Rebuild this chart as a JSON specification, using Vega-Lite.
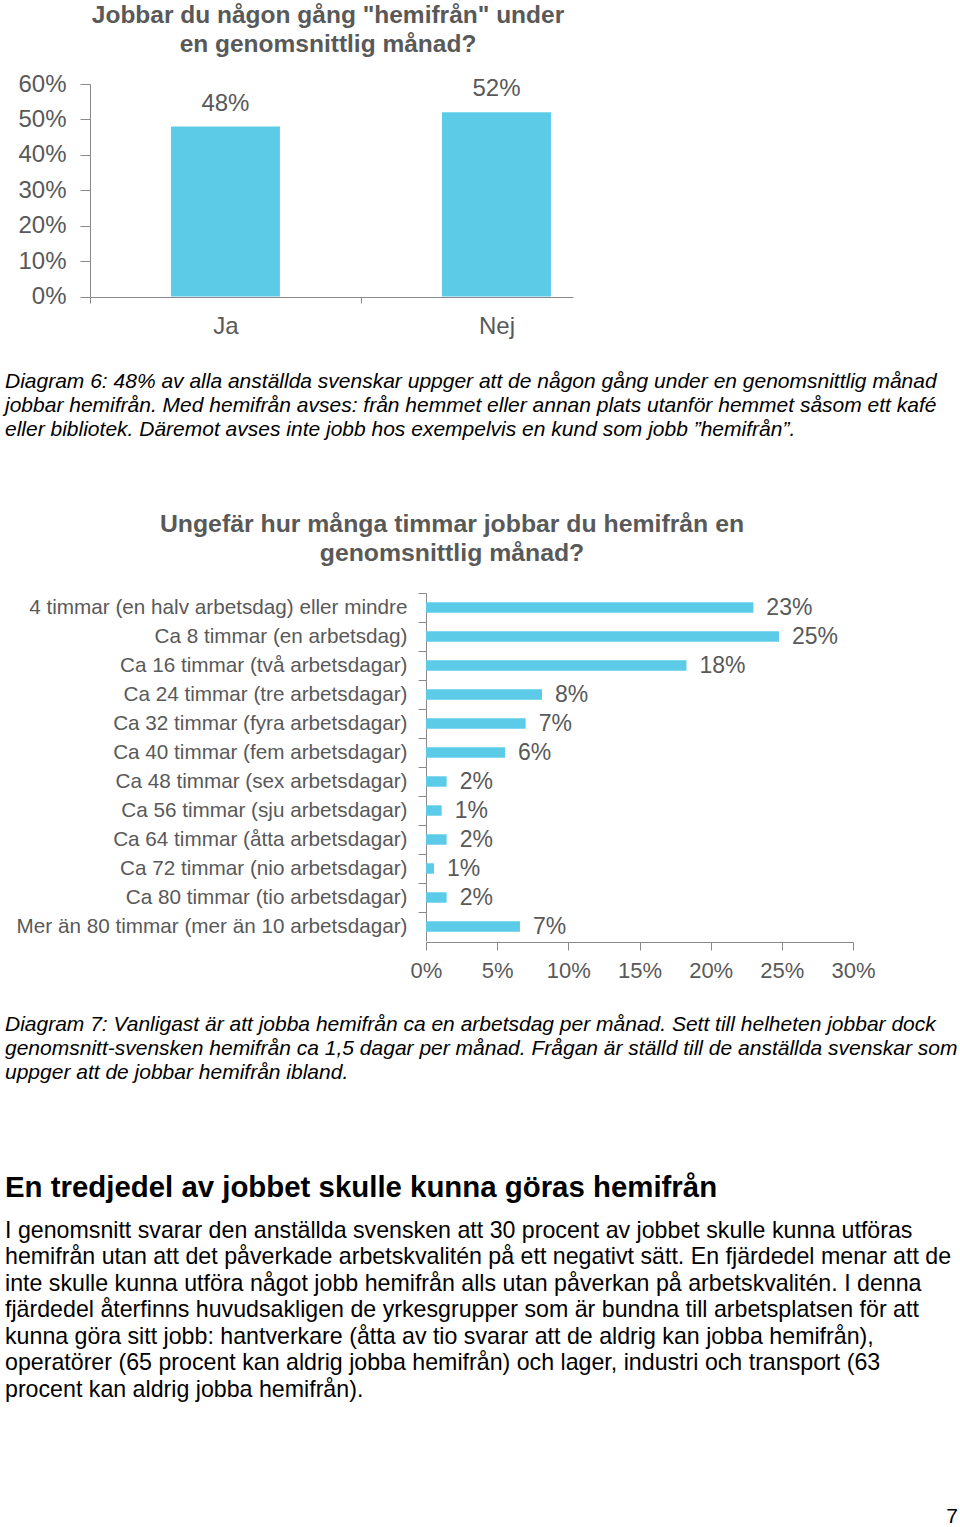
{
  "$schema": "https://vega.github.io/schema/vega-lite/v6.json",
  "autosize": {"type": "pad"},
  "padding": {"left": 5, "top": 0, "right": 0, "bottom": 0},
  "spacing": 0,
  "bounds": "flush",
  "config": {
    "font": "Liberation Sans",
    "view": {"stroke": null},
    "axis": {"labelFont": "Liberation Sans", "labelColor": "#595959", "domainColor": "#898989", "tickColor": "#898989", "grid": false},
    "title": {"font": "Liberation Sans", "subtitleFont": "Liberation Sans"}
  },
  "vconcat": [
    {
      "width": 646, "height": 4,
      "data": {"values": []},
      "mark": "text",
      "title": {"text": ["Jobbar du någon gång \"hemifrån\" under", "en genomsnittlig månad?"], "orient": "bottom", "anchor": "middle", "frame": "group", "offset": 0, "fontSize": 24.5, "fontWeight": "bold", "color": "#595959", "lineHeight": 29}
    },
    {
      "width": 646, "height": 293,
      "data": {"values": [
        {"svar": "Ja", "andel": 0.48},
        {"svar": "Nej", "andel": 0.52}
      ]},
      "encoding": {
        "x": {"field": "svar", "type": "nominal", "sort": null,
          "scale": {"type": "band", "range": [85, 568], "paddingInner": 0.598, "paddingOuter": 0.19, "align": 0.786},
          "axis": {"title": null, "orient": "bottom", "labelAngle": 0, "tickSize": 6, "tickOffset": -135.5, "labelOffset": 135.5, "labelPadding": 11, "labelFontSize": 24}},
        "y": {"field": "andel", "type": "quantitative",
          "scale": {"domain": [0, 0.6], "range": [292.5, 80], "nice": false},
          "axis": {"title": null, "offset": -85, "values": [0, 0.1, 0.2, 0.3, 0.4, 0.5, 0.6], "format": ".0%", "tickSize": 10, "labelPadding": 14, "labelFontSize": 24, "labelFlush": false, "labelOverlap": false}}
      },
      "layer": [
        {"mark": {"type": "bar", "color": "#5CCBE8"}},
        {"mark": {"type": "text", "baseline": "alphabetic", "dy": -16, "fontSize": 24, "color": "#595959"},
         "encoding": {"text": {"field": "andel", "type": "quantitative", "format": ".0%"}}}
      ]
    },
    {
      "width": 940, "height": 74,
      "data": {"values": []},
      "mark": "text",
      "title": {"text": [
        "Diagram 6: 48% av alla anställda svenskar uppger att de någon gång under en genomsnittlig månad",
        "jobbar hemifrån. Med hemifrån avses: från hemmet eller annan plats utanför hemmet såsom ett kafé",
        "eller bibliotek. Däremot avses inte jobb hos exempelvis en kund som jobb ”hemifrån”."
      ], "orient": "bottom", "anchor": "start", "frame": "group", "offset": 0, "fontSize": 21, "fontStyle": "italic", "fontWeight": "normal", "color": "#000000", "lineHeight": 24}
    },
    {
      "width": 894, "height": 141,
      "data": {"values": []},
      "mark": "text",
      "title": {"text": ["Ungefär hur många timmar jobbar du hemifrån en", "genomsnittlig månad?"], "orient": "bottom", "anchor": "middle", "frame": "group", "offset": 0, "fontSize": 24.8, "fontWeight": "bold", "color": "#595959", "lineHeight": 29}
    },
    {
      "width": 894, "height": 430,
      "data": {"values": [
        {"kategori": "4 timmar (en halv arbetsdag) eller mindre", "andel": 0.23, "etikett": "23%"},
        {"kategori": "Ca 8 timmar (en arbetsdag)", "andel": 0.248, "etikett": "25%"},
        {"kategori": "Ca 16 timmar (två arbetsdagar)", "andel": 0.183, "etikett": "18%"},
        {"kategori": "Ca 24 timmar (tre arbetsdagar)", "andel": 0.0815, "etikett": "8%"},
        {"kategori": "Ca 32 timmar (fyra arbetsdagar)", "andel": 0.07, "etikett": "7%"},
        {"kategori": "Ca 40 timmar (fem arbetsdagar)", "andel": 0.0555, "etikett": "6%"},
        {"kategori": "Ca 48 timmar (sex arbetsdagar)", "andel": 0.0145, "etikett": "2%"},
        {"kategori": "Ca 56 timmar (sju arbetsdagar)", "andel": 0.011, "etikett": "1%"},
        {"kategori": "Ca 64 timmar (åtta arbetsdagar)", "andel": 0.0145, "etikett": "2%"},
        {"kategori": "Ca 72 timmar (nio arbetsdagar)", "andel": 0.0056, "etikett": "1%"},
        {"kategori": "Ca 80 timmar (tio arbetsdagar)", "andel": 0.0145, "etikett": "2%"},
        {"kategori": "Mer än 80 timmar (mer än 10 arbetsdagar)", "andel": 0.066, "etikett": "7%"}
      ]},
      "encoding": {
        "y": {"field": "kategori", "type": "nominal", "sort": null,
          "scale": {"type": "band", "range": [81, 429], "paddingInner": 0.64, "paddingOuter": 0.32},
          "axis": {"title": null, "offset": -421, "tickSize": 8, "tickOffset": -14.5, "labelOffset": 14.5, "labelPadding": 11, "labelFontSize": 20.7, "labelLimit": 600}},
        "x": {"field": "andel", "type": "quantitative",
          "scale": {"domain": [0, 0.3], "range": [421, 848], "nice": false},
          "axis": {"title": null, "values": [0, 0.05, 0.1, 0.15, 0.2, 0.25, 0.3], "format": ".0%", "tickSize": 8, "labelPadding": 10, "labelFontSize": 22, "labelFlush": false, "labelOverlap": false}}
      },
      "layer": [
        {"mark": {"type": "bar", "color": "#5CCBE8"}},
        {"mark": {"type": "text", "align": "left", "baseline": "middle", "dx": 13, "fontSize": 23, "color": "#595959"},
         "encoding": {"text": {"field": "etikett", "type": "nominal"}}}
      ]
    },
    {
      "width": 940, "height": 72,
      "data": {"values": []},
      "mark": "text",
      "title": {"text": [
        "Diagram 7: Vanligast är att jobba hemifrån ca en arbetsdag per månad. Sett till helheten jobbar dock",
        "genomsnitt-svensken hemifrån ca 1,5 dagar per månad. Frågan är ställd till de anställda svenskar som",
        "uppger att de jobbar hemifrån ibland."
      ], "orient": "bottom", "anchor": "start", "frame": "group", "offset": 0, "fontSize": 21, "fontStyle": "italic", "fontWeight": "normal", "color": "#000000", "lineHeight": 24}
    },
    {
      "width": 940, "height": 160,
      "data": {"values": []},
      "mark": "text",
      "title": {
        "text": "En tredjedel av jobbet skulle kunna göras hemifrån",
        "subtitle": [
          "I genomsnitt svarar den anställda svensken att 30 procent av jobbet skulle kunna utföras",
          "hemifrån utan att det påverkade arbetskvalitén på ett negativt sätt. En fjärdedel menar att de",
          "inte skulle kunna utföra något jobb hemifrån alls utan påverkan på arbetskvalitén. I denna",
          "fjärdedel återfinns huvudsakligen de yrkesgrupper som är bundna till arbetsplatsen för att",
          "kunna göra sitt jobb: hantverkare (åtta av tio svarar att de aldrig kan jobba hemifrån),",
          "operatörer (65 procent kan aldrig jobba hemifrån) och lager, industri och transport (63",
          "procent kan aldrig jobba hemifrån)."
        ],
        "orient": "bottom", "anchor": "start", "frame": "group", "offset": 0,
        "fontSize": 29.4, "fontWeight": "bold", "color": "#000000",
        "subtitleFontSize": 23.2, "subtitleColor": "#000000", "subtitleFontWeight": "normal", "subtitleLineHeight": 26.5, "subtitlePadding": 16.5
      }
    },
    {
      "width": 953, "height": 332,
      "data": {"values": []},
      "mark": "text",
      "title": {"text": "7", "orient": "bottom", "anchor": "end", "frame": "group", "offset": 0, "fontSize": 21, "fontWeight": "normal", "color": "#000000"}
    }
  ]
}
